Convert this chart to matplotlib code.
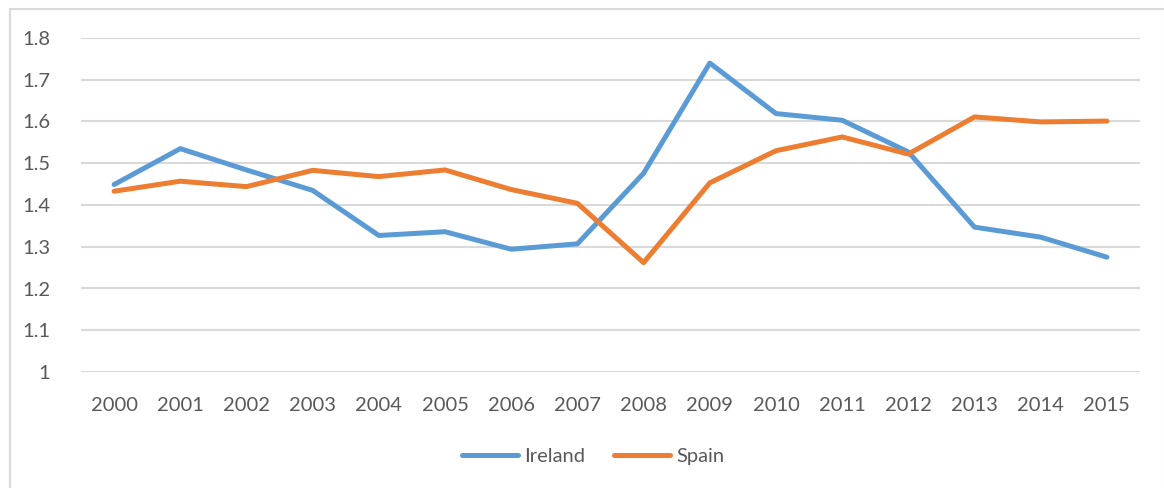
import matplotlib
matplotlib.use("Agg")
import matplotlib.pyplot as plt
from matplotlib.patches import Rectangle

years = [str(y) for y in range(2000, 2016)]
ireland = [1.449, 1.535, 1.484, 1.435, 1.327, 1.336, 1.294, 1.307, 1.476, 1.740,
           1.619, 1.603, 1.527, 1.347, 1.323, 1.275]
spain = [1.433, 1.457, 1.444, 1.483, 1.468, 1.484, 1.437, 1.404, 1.262, 1.453,
         1.530, 1.563, 1.522, 1.611, 1.599, 1.601]
yticks = [1, 1.1, 1.2, 1.3, 1.4, 1.5, 1.6, 1.7, 1.8]
ytick_labels = ["1", "1.1", "1.2", "1.3", "1.4", "1.5", "1.6", "1.7", "1.8"]

W, H = 1164, 488
fig = plt.figure(figsize=(W / 100, H / 100), dpi=100)
plt.rcParams['font.family'] = ['Lato', 'DejaVu Sans']

# outer chart border
fig.patches.append(Rectangle((10 / W, -0.01), (W - 9) / W, (H - 9) / H + 0.01,
                             transform=fig.transFigure, fill=False,
                             edgecolor='#D9D9D9', linewidth=1.5))

ax = fig.add_axes([81 / W, 1 - 372 / H, (1140 - 81) / W, (372 - 38) / H])
x = list(range(len(years)))
blue = '#5B9BD5'
orange = '#ED7D31'
ax.plot(x, ireland, color=blue, linewidth=3.6, label='Ireland',
        solid_joinstyle='round', solid_capstyle='round')
ax.plot(x, spain, color=orange, linewidth=3.6, label='Spain',
        solid_joinstyle='round', solid_capstyle='round')

ax.set_xlim(-0.5, len(years) - 0.5)
ax.set_ylim(1, 1.8)
ax.set_yticks(yticks)
ax.set_yticklabels(ytick_labels)
ax.set_xticks(x)
ax.set_xticklabels(years)
ax.grid(axis='y', color='#D9D9D9', linewidth=1.5)
ax.set_axisbelow(True)
for s in ax.spines.values():
    s.set_visible(False)
ax.tick_params(axis='both', length=0, labelsize=14.5, labelcolor='#595959')
ax.tick_params(axis='y', pad=22)
ax.tick_params(axis='x', pad=18)

leg = fig.legend(loc='center', bbox_to_anchor=(593 / W, 1 - 456 / H), ncol=2,
                 frameon=False, fontsize=14.5, handlelength=2.8,
                 columnspacing=1.4, handletextpad=0.3)
for t in leg.get_texts():
    t.set_color('#595959')

fig.savefig('out.png', dpi=100)
